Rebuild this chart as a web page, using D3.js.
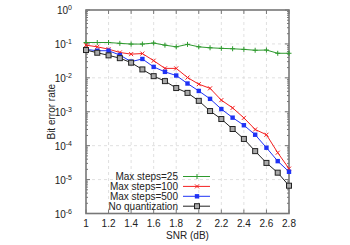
<!DOCTYPE html>
<html>
<head>
<meta charset="utf-8">
<script src="https://cdn.jsdelivr.net/npm/d3@7"></script>
<style>
  body { margin: 0; background: #fff; }
  text { font-family: "Liberation Sans", Arial, sans-serif; fill: #222; }
</style>
</head>
<body>
<svg id="chart" width="350" height="245"></svg>
<script>
// SNR values (dB)
var snr = [1.0, 1.1, 1.2, 1.3, 1.4, 1.5, 1.6, 1.7, 1.8, 1.9, 2.0, 2.1, 2.2, 2.3, 2.4, 2.5, 2.6, 2.7, 2.8];

// bit error rate for each series
var steps25 = [0.11, 0.11, 0.11, 0.104, 0.099, 0.099, 0.106, 0.092, 0.082, 0.097, 0.082, 0.077, 0.074, 0.072, 0.069, 0.065, 0.066, 0.053, 0.053];
var steps100 = [0.092, 0.082, 0.070, 0.056, 0.050, 0.052, 0.032, 0.019, 0.019, 0.0102, 0.0065, 0.0049, 0.0022, 0.0013, 0.00066, 0.00030, 0.00021, 6.2e-5, 2.1e-5];
var steps500 = [0.069, 0.063, 0.063, 0.047, 0.030, 0.036, 0.021, 0.015, 0.0117, 0.0068, 0.0041, 0.0024, 0.0012, 0.00067, 0.00040, 0.00021, 8.7e-5, 3.5e-5, 1.7e-5];
var noQuant = [0.066, 0.055, 0.046, 0.038, 0.028, 0.0177, 0.0112, 0.0080, 0.0050, 0.0036, 0.0021, 0.00105, 0.00061, 0.00031, 0.000158, 6.9e-5, 3.1e-5, 1.6e-5, 6.6e-6];

var seriesNames = ["Max steps=25", "Max steps=100", "Max steps=500", "No quantization"];
var xTicks = [1, 1.2, 1.4, 1.6, 1.8, 2, 2.2, 2.4, 2.6, 2.8];
var yExponents = [0, -1, -2, -3, -4, -5, -6];

var svg = d3.select("#chart");
var pL = 86, pR = 289, pT = 10, pB = 213.5;

var x = d3.scaleLinear().domain([1, 2.8]).range([pL, pR]);
var y = d3.scaleLog().domain([1e-6, 1]).range([pB, pT]);

var series = [
  { name: seriesNames[0], values: steps25, color: "#2e9a2e", marker: "plus" },
  { name: seriesNames[1], values: steps100, color: "#f42020", marker: "cross" },
  { name: seriesNames[2], values: steps500, color: "#1f32f5", marker: "fsquare" },
  { name: seriesNames[3], values: noQuant, color: "#222222", marker: "osquare" }
];

// grid
var grid = svg.append("g");
xTicks.slice(1, -1).forEach(function(t) {
  grid.append("line").attr("x1", x(t)).attr("x2", x(t)).attr("y1", pT).attr("y2", pB)
    .attr("stroke", "#d8d8d8").attr("stroke-width", 0.8).attr("stroke-dasharray", "3,3");
});
yExponents.slice(1, -1).forEach(function(e) {
  grid.append("line").attr("x1", pL).attr("x2", pR).attr("y1", y(Math.pow(10, e))).attr("y2", y(Math.pow(10, e)))
    .attr("stroke", "#d8d8d8").attr("stroke-width", 0.8).attr("stroke-dasharray", "3,3");
});

// ticks (inside, mirrored)
var ticks = svg.append("g").attr("stroke", "#777").attr("stroke-width", 1);
xTicks.forEach(function(t) {
  ticks.append("line").attr("x1", x(t)).attr("x2", x(t)).attr("y1", pB).attr("y2", pB - 4);
  ticks.append("line").attr("x1", x(t)).attr("x2", x(t)).attr("y1", pT).attr("y2", pT + 4);
});
yExponents.forEach(function(e) {
  var v = Math.pow(10, e);
  ticks.append("line").attr("x1", pL).attr("x2", pL + 4).attr("y1", y(v)).attr("y2", y(v));
  ticks.append("line").attr("x1", pR).attr("x2", pR - 4).attr("y1", y(v)).attr("y2", y(v));
  if (e > -6) {
    for (var k = 2; k < 10; k++) {
      var m = v / 10 * k;
      ticks.append("line").attr("x1", pL).attr("x2", pL + 2).attr("y1", y(m)).attr("y2", y(m));
      ticks.append("line").attr("x1", pR).attr("x2", pR - 2).attr("y1", y(m)).attr("y2", y(m));
    }
  }
});

// frame
svg.append("rect").attr("x", pL).attr("y", pT).attr("width", pR - pL).attr("height", pB - pT)
  .attr("fill", "none").attr("stroke", "#777").attr("stroke-width", 1.6);

// tick labels
svg.append("g").selectAll("text").data(xTicks).enter().append("text")
  .attr("x", function(d) { return x(d); }).attr("y", pB + 13)
  .attr("text-anchor", "middle").attr("font-size", 10)
  .text(function(d) { return d; });

var yl = svg.append("g").selectAll("text").data(yExponents).enter().append("text")
  .attr("x", pL - 14).attr("y", function(d) { return y(Math.pow(10, d)) + 4; })
  .attr("text-anchor", "end").attr("font-size", 10);
yl.append("tspan").text("10");
yl.append("tspan").attr("dy", -4).attr("font-size", 7).text(function(d) { return d; });

// axis labels
svg.append("text").attr("x", (pL + pR) / 2).attr("y", 239).attr("text-anchor", "middle")
  .attr("font-size", 10).text("SNR (dB)");
svg.append("text").attr("transform", "translate(55," + ((pT + pB) / 2) + ") rotate(-90)")
  .attr("text-anchor", "middle").attr("font-size", 10).text("Bit error rate");

function drawMarker(g, type, cx, cy, color) {
  if (type === "plus") {
    g.append("path").attr("d", "M" + (cx - 2.5) + "," + cy + "h5M" + cx + "," + (cy - 2.5) + "v5")
      .attr("stroke", color).attr("stroke-width", 1);
  } else if (type === "cross") {
    g.append("path").attr("d", "M" + (cx - 2) + "," + (cy - 2) + "l4,4M" + (cx - 2) + "," + (cy + 2) + "l4,-4")
      .attr("stroke", color).attr("stroke-width", 1);
  } else if (type === "fsquare") {
    g.append("rect").attr("x", cx - 2.2).attr("y", cy - 2.2).attr("width", 4.4).attr("height", 4.4).attr("fill", color);
  } else {
    g.append("rect").attr("x", cx - 2.5).attr("y", cy - 2.5).attr("width", 5).attr("height", 5)
      .attr("fill", "#aaa").attr("stroke", color).attr("stroke-width", 1);
  }
}

var line = d3.line().x(function(d, i) { return x(snr[i]); }).y(function(d) { return y(d); });

series.forEach(function(s) {
  var g = svg.append("g");
  g.append("path").datum(s.values).attr("d", line).attr("fill", "none")
    .attr("stroke", s.color).attr("stroke-width", 1);
  s.values.forEach(function(v, i) { drawMarker(g, s.marker, x(snr[i]), y(v), s.color); });
});

// legend
var legend = svg.append("g");
series.forEach(function(s, i) {
  var ly = 176.5 + i * 9.9;
  legend.append("text").attr("x", 178).attr("y", ly + 3.5).attr("text-anchor", "end")
    .attr("font-size", 10).text(s.name);
  legend.append("line").attr("x1", 183).attr("x2", 210).attr("y1", ly).attr("y2", ly)
    .attr("stroke", s.color).attr("stroke-width", 1);
  drawMarker(legend, s.marker, 197, ly, s.color);
});
</script>
</body>
</html>
